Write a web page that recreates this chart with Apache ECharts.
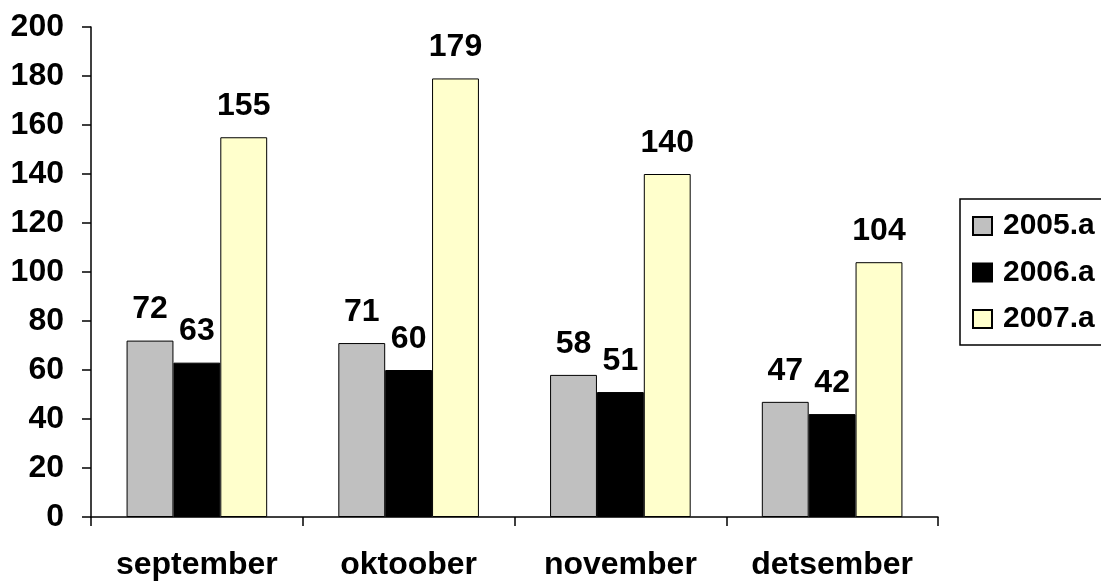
<!DOCTYPE html>
<html>
<head>
<meta charset="utf-8">
<script src="https://cdn.jsdelivr.net/npm/echarts@6/dist/echarts.min.js"></script>
<style>
  html, body { margin: 0; padding: 0; background: #fff; }
  #chart { width: 1101px; height: 581px; }
</style>
</head>
<body>
<div id="chart"></div>
<script>
var months = ['september', 'oktoober', 'november', 'detsember'];
var seriesNames = ['2005.a', '2006.a', '2007.a'];
var values2005 = [72, 71, 58, 47];
var values2006 = [63, 60, 51, 42];
var values2007 = [155, 179, 140, 104];
var colors = ['#C0C0C0', '#000000', '#FFFFCC'];

var font = '"Liberation Sans", Arial, sans-serif';

function makeSeries(name, data, color) {
    return {
        name: name,
        type: 'bar',
        data: data,
        barGap: '0%',
        barCategoryGap: '33.6%',
        itemStyle: { color: color, borderColor: '#000', borderWidth: 1 },
        label: {
            show: true,
            position: 'top',
            distance: 15,
            color: '#000',
            fontFamily: font,
            fontWeight: 'bold',
            fontSize: 32
        }
    };
}

var chart = echarts.init(document.getElementById('chart'));
var option = {
    animation: false,
    backgroundColor: '#fff',
    grid: {
        left: 91, right: 163, top: 27, bottom: 64,
        containLabel: false,
        outerBoundsMode: 'none'
    },
    legend: {
        orient: 'vertical',
        left: 960,
        top: 199,
        padding: [12, 40, 11, 12],
        itemGap: 16.5,
        itemWidth: 19,
        itemHeight: 18,
        icon: 'rect',
        borderColor: '#000',
        borderWidth: 1.5,
        borderRadius: 0,
        textStyle: {
            color: '#000',
            fontFamily: font,
            fontWeight: 'bold',
            fontSize: 30,
            lineHeight: 30,
            padding: [0, 0, 0, 6]
        },
        data: seriesNames
    },
    xAxis: {
        type: 'category',
        data: months,
        axisLine: { lineStyle: { color: '#000', width: 1.5 } },
        axisTick: { show: true, length: 9, lineStyle: { color: '#000', width: 1.5 } },
        axisLabel: {
            color: '#000',
            fontFamily: font,
            fontWeight: 'bold',
            fontSize: 32,
            margin: 32
        }
    },
    yAxis: {
        type: 'value',
        min: 0,
        max: 200,
        interval: 20,
        splitLine: { show: false },
        axisLine: { show: true, lineStyle: { color: '#000', width: 1.5 } },
        axisTick: { show: true, length: 9, lineStyle: { color: '#000', width: 1.5 } },
        axisLabel: {
            color: '#000',
            fontFamily: font,
            fontWeight: 'bold',
            fontSize: 32,
            margin: 27
        }
    },
    series: [
        makeSeries(seriesNames[0], values2005, colors[0]),
        makeSeries(seriesNames[1], values2006, colors[1]),
        makeSeries(seriesNames[2], values2007, colors[2])
    ]
};
chart.setOption(option);
</script>
</body>
</html>
